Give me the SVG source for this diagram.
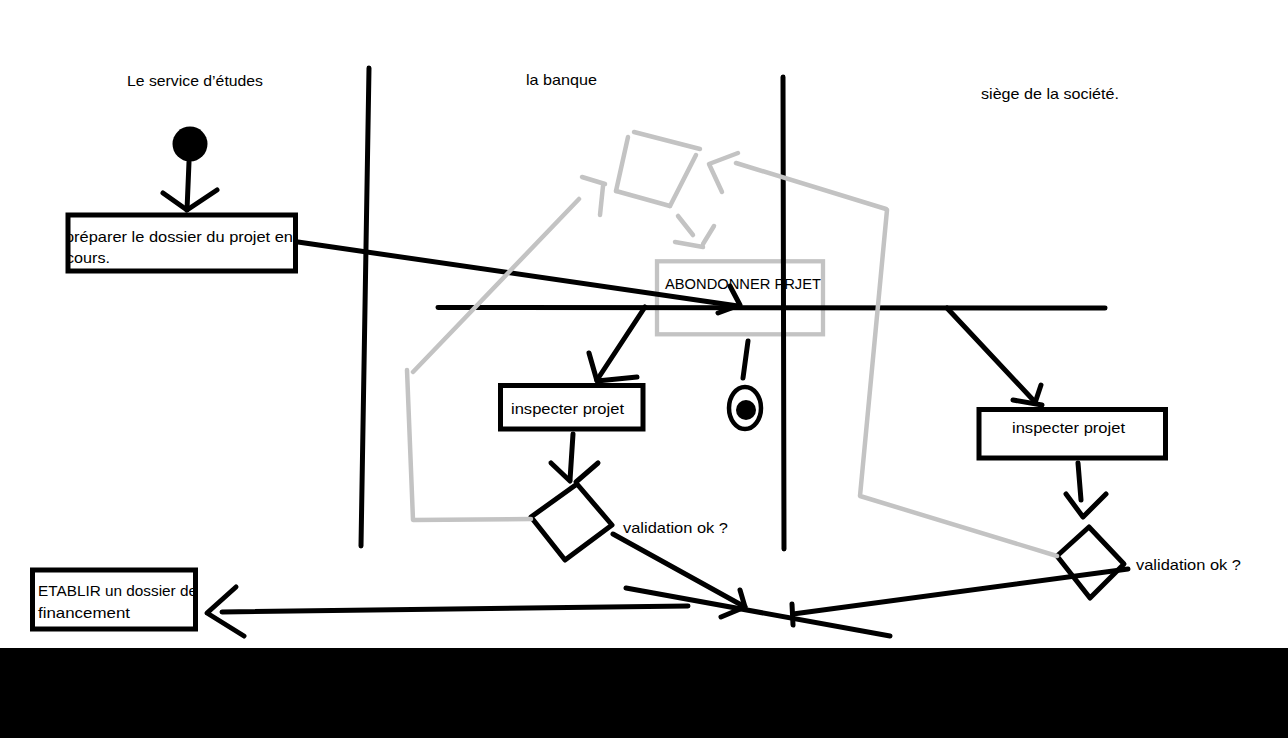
<svg xmlns="http://www.w3.org/2000/svg" width="1288" height="738" viewBox="0 0 1288 738">
<defs>
<style>
.t{font-family:"Liberation Sans",Arial,sans-serif;font-size:15px;fill:#000}
.b{fill:none;stroke:#000;stroke-width:5;stroke-linecap:round;stroke-linejoin:round}
.g{fill:none;stroke:#c3c3c3;stroke-width:4.5;stroke-linecap:round;stroke-linejoin:round}
.box{fill:none;stroke:#000;stroke-width:5}
</style>
<clipPath id="c1"><rect x="68" y="213" width="228" height="60"/></clipPath>
<clipPath id="c2"><rect x="33" y="568" width="164" height="62"/></clipPath>
</defs>
<rect x="0" y="0" width="1288" height="738" fill="#fff"/>
<g id="titles">
<text class="t" x="127" y="86" textLength="136" lengthAdjust="spacingAndGlyphs">Le service d’études</text>
<text class="t" x="526" y="85" textLength="71" lengthAdjust="spacingAndGlyphs">la banque</text>
<text class="t" x="981" y="99" textLength="138" lengthAdjust="spacingAndGlyphs">siège de la société.</text>
</g>
<g id="start">
<circle cx="190" cy="144" r="17.5" fill="#000"/>
</g>
<g id="preparer">
<g clip-path="url(#c1)">
<text class="t" x="65" y="242" textLength="228" lengthAdjust="spacingAndGlyphs">préparer le dossier du projet en</text>
<text class="t" x="66" y="263" textLength="44" lengthAdjust="spacingAndGlyphs">cours.</text>
</g>
<rect class="box" x="68" y="215" width="227.5" height="56"/>
</g>
<g id="abandon">
<text class="t" x="665" y="289" textLength="156" lengthAdjust="spacingAndGlyphs">ABONDONNER PRJET</text>
<rect x="657" y="261.3" width="166" height="73" fill="none" stroke="#c3c3c3" stroke-width="4.3"/>
</g>
<g id="lanes">
<line class="b" x1="369" y1="68" x2="361" y2="546"/>
<line class="b" x1="783" y1="77" x2="784" y2="549"/>
</g>
<g id="fork">
<line class="b" x1="438" y1="307.5" x2="1105" y2="308"/>
</g>
<g id="inspect1">
<text class="t" x="511" y="414" textLength="113" lengthAdjust="spacingAndGlyphs">inspecter projet</text>
<rect class="box" x="500.5" y="385.5" width="142.5" height="43.5"/>
</g>
<g id="inspect2">
<text class="t" x="1012" y="433" textLength="113" lengthAdjust="spacingAndGlyphs">inspecter projet</text>
<rect class="box" x="979" y="409.5" width="186.5" height="48.5"/>
</g>
<g id="decision1">
<polygon class="b" points="577,484 612,525 565,560 531,517"/>
<text class="t" x="623" y="533" textLength="105" lengthAdjust="spacingAndGlyphs">validation ok ?</text>
</g>
<g id="decision2">
<polygon class="b" points="1089,527 1124,564 1090,598 1057,556"/>
<text class="t" x="1136" y="570" textLength="105" lengthAdjust="spacingAndGlyphs">validation ok ?</text>
</g>
<g id="end">
<ellipse cx="745" cy="408" rx="16" ry="21" fill="#fff" stroke="#000" stroke-width="4.5"/>
<circle cx="746" cy="410" r="10" fill="#000"/>
</g>
<g id="grey-decision">
<line class="g" x1="634" y1="132" x2="700" y2="149"/>
<line class="g" x1="696" y1="155" x2="670" y2="206"/>
<line class="g" x1="670" y1="206" x2="616" y2="191"/>
<line class="g" x1="616" y1="191" x2="628" y2="137"/>
</g>
<g id="merge">
<line class="b" x1="626" y1="588" x2="890" y2="636"/>
</g>
<g id="etablir">
<g clip-path="url(#c2)">
<text class="t" x="38" y="596" textLength="159" lengthAdjust="spacingAndGlyphs">ETABLIR un dossier de</text>
<text class="t" x="38" y="618" textLength="92" lengthAdjust="spacingAndGlyphs">financement</text>
</g>
<rect class="box" x="32.5" y="570" width="163" height="59"/>
</g>
<g id="connectors">
<line class="b" x1="189" y1="162" x2="187" y2="210"/>
<polyline class="b" points="163,193 187,210 217,190"/>
<line class="b" x1="298" y1="242" x2="738" y2="306"/>
<polyline class="b" points="730,286 740,305"/>
<polyline class="b" points="718,313 737,306"/>
<line class="b" x1="645" y1="307" x2="597" y2="380"/>
<polyline class="b" points="589,353 597,381 637,377"/>
<line class="b" x1="947" y1="308" x2="1035" y2="402"/>
<polyline class="b" points="1041,385 1035,403"/>
<polyline class="b" points="1013,400 1042,405"/>
<line class="b" x1="748" y1="341" x2="743" y2="378"/>
<line class="b" x1="573" y1="434" x2="570" y2="480"/>
<polyline class="b" points="551,463 570,481"/>
<polyline class="b" points="598,463 576,482"/>
<line class="b" x1="1078" y1="463" x2="1081" y2="500"/>
<polyline class="b" points="1066,494 1083,517 1106,494"/>
<line class="b" x1="613" y1="534" x2="745" y2="607"/>
<polyline class="b" points="740,590 745,607 721,617"/>
<line class="b" x1="1128" y1="569" x2="793" y2="614"/>
<line class="b" x1="792" y1="604" x2="793" y2="625"/>
<line class="b" x1="688" y1="606" x2="222" y2="612"/>
<polyline class="b" points="236,587 207,613 244,636"/>
<polyline class="g" points="886,209 736,163"/>
<polyline class="g" points="738,153 709,164 722,192"/>
<polyline class="g" points="887,210 860,496 1057,556"/>
<line class="g" x1="582" y1="177" x2="605" y2="184"/>
<line class="g" x1="603" y1="186" x2="600" y2="215"/>
<line class="g" x1="579" y1="199" x2="413" y2="372"/>
<polyline class="g" points="407,370 413,520 531,519"/>
<line class="g" x1="678" y1="216" x2="693" y2="235"/>
<line class="g" x1="714" y1="226" x2="703" y2="244"/>
<line class="g" x1="675" y1="242" x2="703" y2="247"/>
</g>
<rect x="0" y="648" width="1288" height="90" fill="#000"/>
</svg>
